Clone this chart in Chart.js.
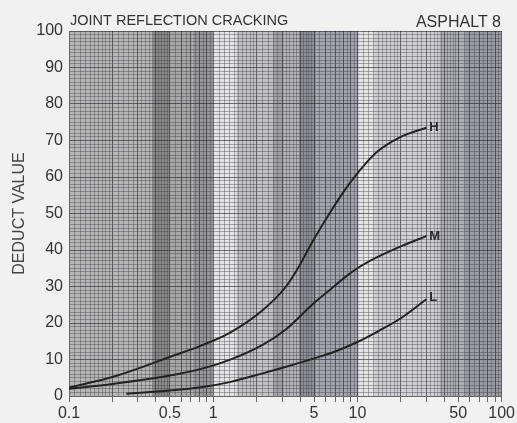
<!DOCTYPE html>
<html>
<head>
<meta charset="utf-8">
<script src="https://cdn.jsdelivr.net/npm/chart.js@4.4.0/dist/chart.umd.min.js"></script>
<style>
    html, body { margin: 0; padding: 0; background: #f1f1f1; }
    #wrap { width: 517px; height: 423px; }
</style>
</head>
<body>
<div id="wrap"><canvas id="chart" width="517" height="423"></canvas></div>
<script>
// Curve data (density on log x axis, deduct value on y)
const highX = [0.1, 0.2, 0.3, 0.5, 0.8, 1.3, 2.2, 3.2, 3.8, 5, 6.4, 8.3, 10, 13.5, 20, 30];
const highValues = [2.3, 5.2, 7.5, 10.7, 13.6, 17.3, 23.5, 30, 34.5, 43, 50, 56.8, 61, 66.7, 71, 73.5];
const mediumX = [0.1, 0.2, 0.5, 0.8, 1.3, 2.2, 3.2, 5, 6.4, 8.3, 10, 13.5, 20, 30];
const mediumValues = [2, 3.3, 5.6, 7.3, 9.9, 14, 18.3, 25.5, 29, 32.7, 35, 37.9, 41, 43.8];
const lowX = [0.25, 0.5, 0.8, 1.3, 2.2, 3.2, 5, 7, 10, 14, 20, 30];
const lowValues = [0.6, 1.5, 2.3, 3.8, 6.2, 8, 10.3, 12.2, 14.8, 17.8, 21.3, 26.5];
const seriesNames = ['H', 'M', 'L'];

const xTickLabels = [0.1, 0.5, 1, 5, 10, 50, 100];
const yTickLabels = [0, 10, 20, 30, 40, 50, 60, 70, 80, 90, 100];

// shaded bands of the scanned grid paper
const bands = [
    [0.1, 0.38, '#b6b6b6'],
    [0.38, 0.5, '#8a8a8a'],
    [0.5, 0.72, '#a6a6a6'],
    [0.72, 1.0, '#98989a'],
    [1.0, 1.45, '#e4e4e4'],
    [1.45, 2.6, '#c2c2c4'],
    [2.6, 3.1, '#a0a0a6'],
    [3.1, 3.9, '#b2b2b8'],
    [3.9, 5.2, '#8e8e98'],
    [5.2, 10.2, '#a4a4ae'],
    [10.2, 13, '#e6e6e6'],
    [13, 37, '#d0d0d4'],
    [37, 55, '#aeaeb6'],
    [55, 100, '#9a9aa4'],
];

// fine vertical rulings like semi-log paper
function paperLines() {
    const out = [];
    [0.1, 1, 10].forEach(d => {
        for (let k = 1; k < 2; k += 0.1) out.push(k * d);
        for (let k = 2; k < 5; k += 0.2) out.push(k * d);
        for (let k = 5; k < 10; k += 0.5) out.push(k * d);
    });
    out.push(100);
    return out.map(v => Number(v.toPrecision(6)));
}

function isWhole(v) {
    const m = v / Math.pow(10, Math.floor(Math.log10(v) + 1e-9));
    return Math.abs(m - Math.round(m)) < 1e-6;
}

const toPoints = (xs, ys) => xs.map((x, i) => ({ x: x, y: ys[i] }));

const paperPlugin = {
    id: 'paper',
    beforeDraw(chart) {
        const { ctx, chartArea: a, scales: { x } } = chart;
        ctx.save();
        ctx.fillStyle = '#f1f1f1';
        ctx.fillRect(0, 0, chart.width, chart.height);
        bands.forEach(([from, to, color]) => {
            const x0 = x.getPixelForValue(from);
            const x1 = x.getPixelForValue(to);
            ctx.fillStyle = color;
            ctx.fillRect(x0, a.top, x1 - x0, a.bottom - a.top);
        });
        ctx.restore();
    }
};

const labelPlugin = {
    id: 'curveLabels',
    afterDatasetsDraw(chart) {
        const ctx = chart.ctx;
        ctx.save();
        ctx.fillStyle = '#2a2a2a';
        ctx.font = 'bold 13px "Liberation Sans", Arial, sans-serif';
        ctx.textBaseline = 'middle';
        chart.data.datasets.forEach((ds, i) => {
            const pts = chart.getDatasetMeta(i).data;
            const last = pts[pts.length - 1];
            ctx.fillText(seriesNames[i], last.x + 3, last.y - (i === 2 ? 2 : 0));
        });
        ctx.restore();
    },
    afterDraw(chart) {
        const ctx = chart.ctx;
        ctx.save();
        ctx.fillStyle = '#333';
        ctx.textBaseline = 'alphabetic';
        ctx.font = '14.5px "Liberation Sans", Arial, sans-serif';
        ctx.textAlign = 'left';
        ctx.fillText('JOINT REFLECTION CRACKING', 70, 25);
        ctx.font = '16px "Liberation Sans", Arial, sans-serif';
        ctx.textAlign = 'right';
        ctx.fillText('ASPHALT 8', 501, 27);
        ctx.restore();
    }
};

const lineStyle = {
    borderColor: '#222',
    borderWidth: 2,
    pointRadius: 0,
    fill: false,
    cubicInterpolationMode: 'monotone',
};

const ctx = document.getElementById('chart').getContext('2d');
new Chart(ctx, {
    type: 'line',
    data: {
        datasets: [
            { label: 'H', data: toPoints(highX, highValues), ...lineStyle },
            { label: 'M', data: toPoints(mediumX, mediumValues), ...lineStyle },
            { label: 'L', data: toPoints(lowX, lowValues), ...lineStyle },
        ]
    },
    options: {
        responsive: false,
        animation: false,
        devicePixelRatio: 1,
        layout: { padding: { top: 31, right: 8, left: 0, bottom: 0 } },
        plugins: { legend: { display: false }, tooltip: { enabled: false } },
        scales: {
            x: {
                type: 'logarithmic',
                min: 0.1,
                max: 100,
                afterBuildTicks: axis => {
                    axis.ticks = paperLines().map(v => ({ value: v }));
                },
                afterFit: axis => { axis.height = 27; },
                ticks: {
                    autoSkip: false,
                    maxRotation: 0,
                    padding: 2,
                    color: '#333',
                    font: { family: '"Liberation Sans", Arial, sans-serif', size: 16 },
                    callback: v => {
                        const hit = xTickLabels.find(t => Math.abs(t - v) < 1e-6 * t);
                        return hit !== undefined ? String(hit) : '';
                    }
                },
                grid: {
                    color: c => isWhole(c.tick.value) ? 'rgba(35,35,40,0.6)' : 'rgba(60,60,65,0.38)',
                    tickColor: c => isWhole(c.tick.value) ? '#666' : 'rgba(0,0,0,0)',
                    tickLength: 6,
                },
                border: { color: '#666' }
            },
            y: {
                min: 0,
                max: 100,
                afterFit: axis => { axis.width = 69; },
                ticks: {
                    stepSize: 1,
                    autoSkip: false,
                    padding: 6,
                    color: '#333',
                    font: { family: '"Liberation Sans", Arial, sans-serif', size: 16 },
                    callback: v => yTickLabels.includes(v) ? String(v) : ''
                },
                grid: {
                    drawTicks: false,
                    color: c => c.tick.value % 10 === 0 ? 'rgba(35,35,40,0.6)' : 'rgba(60,60,65,0.38)',
                },
                border: { color: '#666' },
                title: {
                    display: true,
                    text: 'DEDUCT VALUE',
                    color: '#444',
                    padding: { top: 10, bottom: 0 },
                    font: { family: '"Liberation Sans", Arial, sans-serif', size: 16 }
                }
            }
        }
    },
    plugins: [paperPlugin, labelPlugin]
});
</script>
</body>
</html>
